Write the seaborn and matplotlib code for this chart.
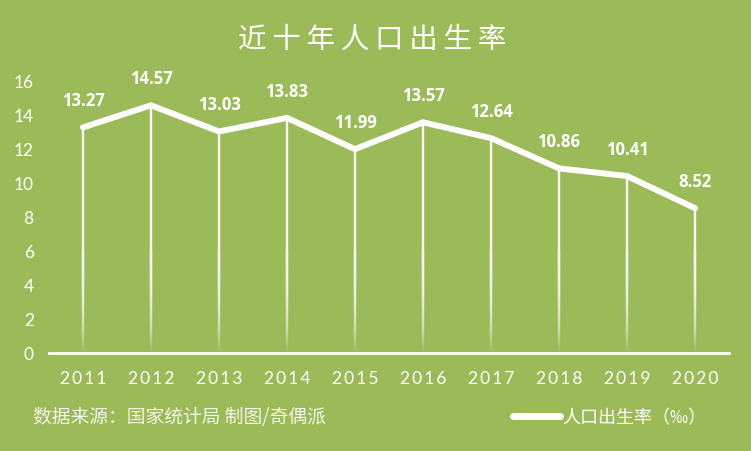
import numpy as np
import pandas as pd
import matplotlib
matplotlib.use("Agg")
import matplotlib.pyplot as plt
import seaborn as sns
from matplotlib.lines import Line2D

years = ["2011", "2012", "2013", "2014", "2015", "2016", "2017", "2018", "2019", "2020"]
birth_rate = [13.27, 14.57, 13.03, 13.83, 11.99, 13.57, 12.64, 10.86, 10.41, 8.52]
y_ticks = [0, 2, 4, 6, 8, 10, 12, 14, 16]
title_text = "近十年人口出生率"
series_label = "人口出生率（‰）"
source_text = "数据来源：国家统计局 制图/奇偶派"

BG = "#9BBB59"
sns.set_theme(style="white")
plt.rcParams["font.family"] = ["Noto Sans CJK SC", "DejaVu Sans"]

fig = plt.figure(figsize=(7.51, 4.52), dpi=100, facecolor=BG)
ax = fig.add_axes([49/751, 1-354/452, 680/751, (354-82)/452])
ax.set_facecolor(BG)

df = pd.DataFrame({"idx": np.arange(len(years)), "rate": birth_rate})

# drop lines: solid in upper part, fading near the axis (stacked translucent segments)
fade_top = 6.0
nseg = 30
xs = np.arange(len(years))
tops = np.array(birth_rate)
ax.vlines(xs, fade_top, tops, color="white", lw=1.7, alpha=0.95, zorder=2)
starts = np.linspace(0, fade_top, nseg + 1)[1:-1]
for s in starts:
    ax.vlines(xs, s, fade_top + 0.02, color="white", lw=1.7, alpha=0.10, zorder=2)

sns.lineplot(data=df, x="idx", y="rate", ax=ax, color="white", lw=4.3,
             zorder=3, solid_joinstyle="miter", legend=False)

for i, v in enumerate(birth_rate):
    ax.annotate(f"{v:.2f}", (i, v), xytext=(0, 13), textcoords="offset points",
                ha="center", va="bottom", color="white", fontsize=12,
                fontweight="bold", family=["Open Sans", "DejaVu Sans"], zorder=4)

ax.set_xlim(-0.5, len(years) - 0.5)
ax.set_ylim(0, 16)
ax.set_yticks(y_ticks)
ax.set_yticklabels([str(t) for t in y_ticks], color="white", fontsize=12.5,
                   family=["Lato", "DejaVu Sans"])
ax.set_xticks(xs)
ax.set_xticklabels(["\u2009".join(y) for y in years], color="white", fontsize=12.5,
                   family=["Lato", "DejaVu Sans"])
ax.tick_params(axis="y", length=0, pad=11)
ax.tick_params(axis="x", length=0, pad=12)
ax.set_xlabel("")
ax.set_ylabel("")
for s in ["top", "right", "left"]:
    ax.spines[s].set_visible(False)
ax.spines["bottom"].set_color("white")
ax.spines["bottom"].set_linewidth(2)
ax.spines["bottom"].set_zorder(5)

fig.text(372/751, 1-40/452, "\u2009".join(title_text), ha="center", va="center",
         color="white", fontsize=20.5, fontweight="light",
         family=["Noto Sans CJK SC", "DejaVu Sans"])

fig.text(33/751, 1-418/452, source_text, ha="left", va="center",
         color="#F2F5EA", fontsize=13.5, style="italic",
         family=["Noto Sans CJK SC", "DejaVu Sans"])

h = Line2D([], [], color="white", lw=5, solid_capstyle="round")
fig.legend([h], [series_label], loc="center left",
           bbox_to_anchor=(497/751, 1-418/452), frameon=False,
           handlelength=2.6, handletextpad=0.1, labelcolor="white",
           prop={"family": ["Noto Sans CJK SC", "DejaVu Sans"], "size": 13})

fig.savefig("out.png", dpi=100, facecolor=BG)
